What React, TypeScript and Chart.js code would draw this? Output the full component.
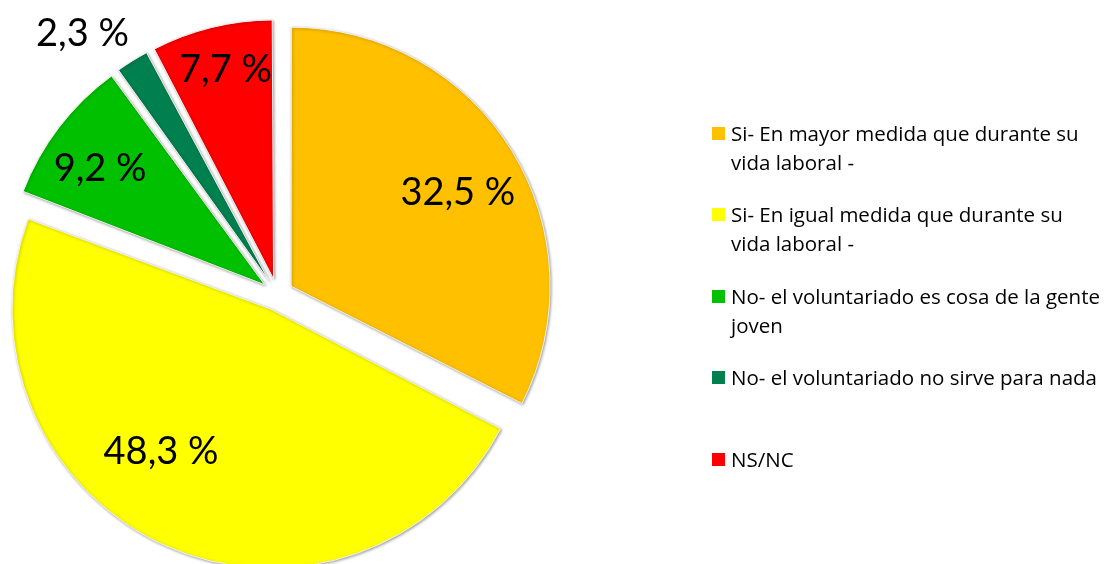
import React, { useEffect, useRef } from "react";
import { Chart, registerables } from "chart.js";

Chart.register(...registerables);

const categories: string[][] = [
  ["Si- En mayor medida que durante su", "vida laboral -"],
  ["Si- En igual medida que durante su", "vida laboral -"],
  ["No- el voluntariado es cosa de la gente", "joven"],
  ["No- el voluntariado no sirve para nada"],
  ["NS/NC"],
];
const values: number[] = [32.5, 48.3, 9.2, 2.3, 7.7];
const colors: string[] = ["#FFC000", "#FFFF00", "#00C000", "#00804F", "#FF0000"];

// label placement (fraction of radius, angle shift in degrees)
const labelRadius: number[] = [0.74, 0.69, 0.78, 1.2, 0.835];
const labelShift: number[] = [2, 14, -2, -5, 1];

const BASE_R = 259;
const OFFSET = 64; // chart.js translates by offset/4
const W = 1105;
const H = 564;
const CX = 277.4;
const CY = 294.5;

const fmt = (v: number) => v.toFixed(1).replace(".", ",") + " %";

const piePlugin = {
  id: "pieTweaks",
  beforeDatasetsDraw(chart: any) {
    const meta = chart.getDatasetMeta(0);
    meta.data.forEach((arc: any) => {
      const o = (arc.options.offset || 0) / 4;
      const circ = arc.endAngle - arc.startAngle;
      const fix = 1 - Math.sin(Math.min(Math.PI, circ));
      arc.outerRadius = BASE_R - o * fix;
    });
    const ctx = chart.ctx;
    ctx.save();
    ctx.shadowColor = "rgba(0,0,0,0.35)";
    ctx.shadowBlur = 3;
    ctx.shadowOffsetX = 1;
    ctx.shadowOffsetY = 1;
  },
  afterDatasetsDraw(chart: any) {
    const ctx = chart.ctx;
    ctx.restore();
    const meta = chart.getDatasetMeta(0);
    ctx.save();
    const size = 38;
    ctx.font = `${size}px Lato`;
    ctx.fillStyle = "#000";
    ctx.textAlign = "center";
    ctx.textBaseline = "alphabetic";
    meta.data.forEach((arc: any, i: number) => {
      const o = (arc.options.offset || 0) / 4;
      const mid = (arc.startAngle + arc.endAngle) / 2;
      const cx = arc.x + Math.cos(mid) * o;
      const cy = arc.y + Math.sin(mid) * o;
      const a = mid + (labelShift[i] * Math.PI) / 180;
      const r = BASE_R * labelRadius[i];
      const x = cx + Math.cos(a) * r;
      const y = cy + Math.sin(a) * r;
      ctx.fillText(fmt(values[i]), x, y + size * 0.36);
    });
    ctx.restore();
  },
};

export default function App() {
  const ref = useRef<HTMLCanvasElement | null>(null);
  useEffect(() => {
    if (!ref.current) return;
    const chart = new Chart(ref.current, {
      type: "pie",
      data: {
        labels: categories.map((l) => l.join(" ")),
        datasets: [
          {
            data: values,
            backgroundColor: colors,
            borderColor: "#f2f2f2",
            borderWidth: 1,
            offset: OFFSET,
            hoverOffset: OFFSET,
            clip: false as any,
          } as any,
        ],
      },
      options: {
        responsive: false,
        animation: false,
        radius: BASE_R,
        layout: {
          padding: { left: 0, right: W - 2 * CX, top: 2 * CY - H, bottom: 0 },
        },
        plugins: {
          legend: { display: false },
          tooltip: { enabled: false },
        },
        events: [],
      } as any,
      plugins: [piePlugin],
    });
    return () => chart.destroy();
  }, []);

  return (
    <div
      style={{
        position: "fixed",
        left: 0,
        top: 0,
        width: W,
        height: H,
        background: "#fff",
        overflow: "hidden",
      }}
    >
      <canvas ref={ref} width={W} height={H} style={{ position: "absolute", left: 0, top: 0 }} />
      {categories.map((lines, i) => (
        <div
          key={i}
          style={{
            position: "absolute",
            left: 712,
            top: 118.5 + i * 81.5,
            fontFamily: "'Open Sans'",
            fontSize: 20.5,
            lineHeight: "29px",
            color: "#000",
            whiteSpace: "nowrap",
          }}
        >
          <span
            style={{
              position: "absolute",
              left: 0,
              top: 8,
              width: 13,
              height: 13,
              background: colors[i],
            }}
          />
          <div style={{ marginLeft: 19 }}>
            {lines.map((t, j) => (
              <div key={j}>{t}</div>
            ))}
          </div>
        </div>
      ))}
    </div>
  );
}
